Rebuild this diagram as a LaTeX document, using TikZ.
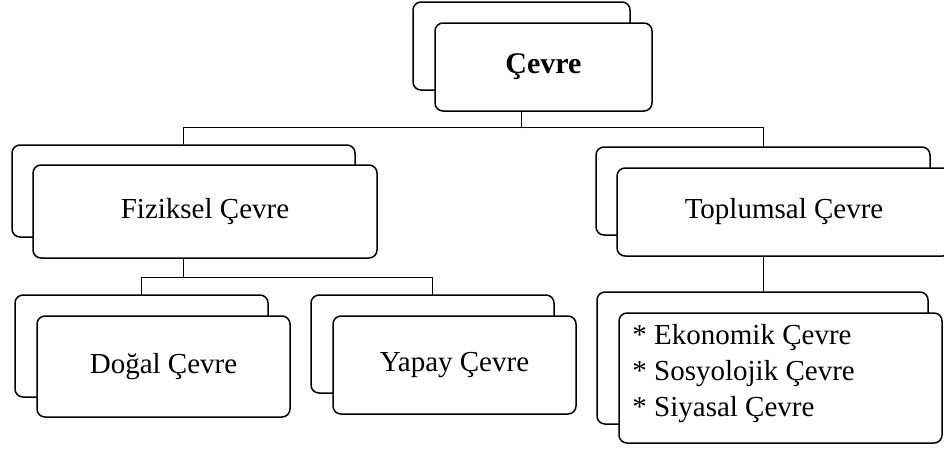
\documentclass[tikz,border=0pt]{standalone}
\usepackage{fontspec}
\setmainfont{Liberation Serif}
\usetikzlibrary{calc,positioning}

\begin{document}
\begin{tikzpicture}[x=1pt,y=-1pt,line cap=round,line join=round,
  backbox/.style={draw,line width=1.5pt,rounded corners=8pt,fill=white,inner sep=0pt},
  frontbox/.style={backbox,font=\fontsize{29}{36}\selectfont,align=center},
  link/.style={draw,line width=0.8pt}]
  \useasboundingbox (0,0) rectangle (944,451);

  % --- root: Cevre ---
  \node[backbox,minimum width=217pt,minimum height=88pt] (cevb) at (521.5,46) {};
  \node[frontbox,minimum width=217pt,minimum height=88pt,font=\fontsize{30}{36}\selectfont\bfseries] (cev) at (543.5,67) {Çevre};

  % --- second level ---
  \node[backbox,minimum width=343pt,minimum height=92pt] (fizb) at (183.5,191) {};
  \node[frontbox,minimum width=344pt,minimum height=93pt] (fiz) at (205,211.5) {Fiziksel Çevre};

  \node[backbox,minimum width=334pt,minimum height=88pt] (toplb) at (763,191) {};
  \node[frontbox,minimum width=334pt,minimum height=88pt] (topl) at (784,212) {Toplumsal Çevre};

  % --- third level ---
  \node[backbox,minimum width=253pt,minimum height=102pt] (dogb) at (141.5,346) {};
  \node[frontbox,minimum width=253pt,minimum height=101pt] (dog) at (163.5,366.5) {Doğal Çevre};

  \node[backbox,minimum width=243pt,minimum height=98pt] (yapb) at (432.5,344) {};
  \node[frontbox,minimum width=243pt,minimum height=98pt] (yap) at (454.5,365) {Yapay Çevre};

  \node[backbox,minimum width=331pt,minimum height=132pt] (lstb) at (762.5,358) {};
  \node[backbox,minimum width=323pt,minimum height=130pt] (lst) at (780.5,378) {};
  \node[anchor=west,align=left,inner sep=0pt,font=\fontsize{29}{36}\selectfont]
    (lsttxt) at ($(lst.west)+(14,-4)$) {* Ekonomik Çevre\\* Sosyolojik Çevre\\* Siyasal Çevre};

  % --- connectors ---
  \draw[link] (cevb.center |- cev.south) -- ++(0,16) coordinate (topbus);
  \draw[link] (fizb.north) |- (topbus) -| (toplb.north);
  \draw[link] (fizb.center |- fiz.south) -- ++(0,19) coordinate (fizbus);
  \draw[link] (dogb.north) |- (fizbus) -| (yapb.north);
  \draw[link] (toplb.center |- topl.south) -- (toplb.center |- lstb.north);
\end{tikzpicture}
\end{document}
